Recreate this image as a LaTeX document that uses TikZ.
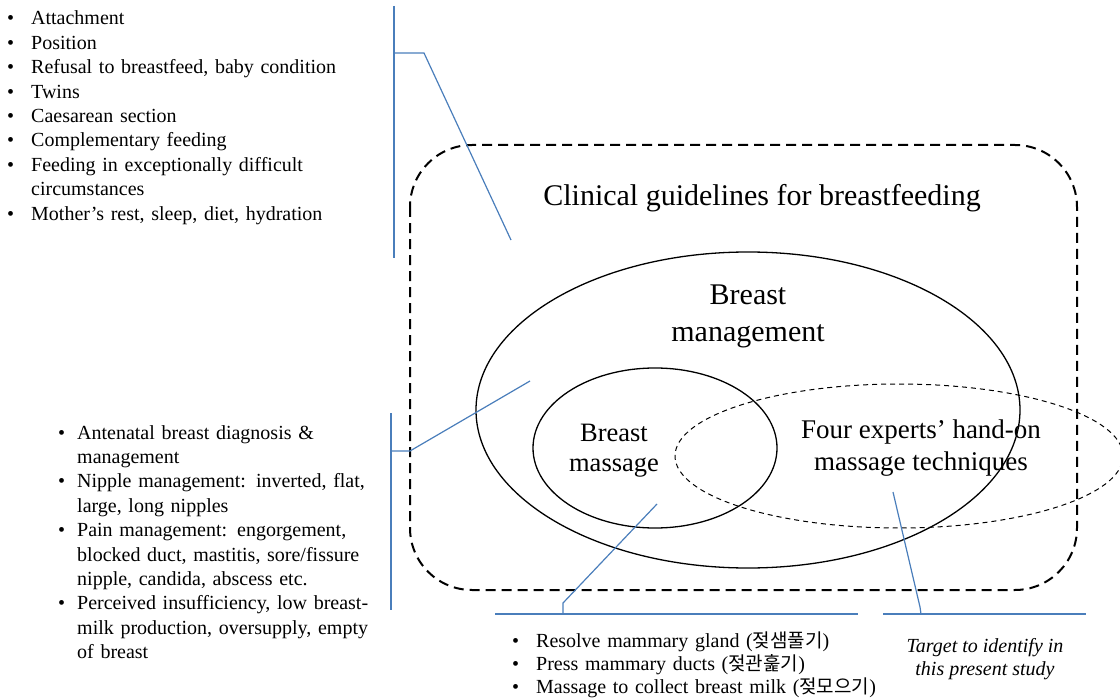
\documentclass[tikz,border=0pt]{standalone}
\usepackage{fontspec}
\setmainfont{Liberation Serif}
\newfontfamily\krfont{Noto Sans CJK KR}[Scale=0.95]
\usepackage{xcolor}
\usetikzlibrary{positioning, calc}
\definecolor{linkblue}{RGB}{74,126,187}
\newlength\bulind
\newlength\bulsep
\newcommand\bfirst[1]{\noindent\hangindent=\bulind\hangafter=1\makebox[\bulind][r]{\textbullet\hspace{\bulsep}}#1}
\newcommand\bitem[1]{\par\bfirst{#1}}

\begin{document}
\begin{tikzpicture}[x=1pt, y=-1pt,
    link/.style={draw=linkblue, line width=1.2pt},
    bullets/.style={anchor=base west, inner sep=0pt, align=left, font=\fontsize{20}{24.4}\selectfont},
    bigtext/.style={anchor=base, inner sep=0pt, align=center}]
  \useasboundingbox (0,0) rectangle (1120,698);

  \draw[line width=2pt, dash pattern=on 10pt off 6pt, rounded corners=62pt] (410,145) rectangle (1077,590);
  \draw[line width=1.3pt] (748,410) ellipse [x radius=272pt, y radius=158pt];
  \draw[line width=1.3pt] (655,448) ellipse [x radius=122pt, y radius=80pt];
  \draw[line width=1pt, dash pattern=on 5pt off 4pt] (899,456) ellipse [x radius=224pt, y radius=72pt];

  \node[bigtext, font=\fontsize{30}{36}\selectfont] (guide) at (762,205) {Clinical guidelines for breastfeeding};
  \node[bigtext, font=\fontsize{30}{36.5}\selectfont] (mgmt) at (748,341) {Breast\\management};
  \node[bigtext, font=\fontsize{26.5}{30}\selectfont] (massage) at (614,471) {Breast\\massage};
  \node[bigtext, font=\fontsize{27}{32}\selectfont] (experts) at (921,470) {Four experts’ hand-on\\massage techniques};

  \node[bullets, text width=360pt] (feedlist) at (0,25) {\setlength\bulind{31pt}\setlength\bulsep{17pt}%
    \bfirst{Attachment}
    \bitem{Position}
    \bitem{Refusal to breastfeed, baby condition}
    \bitem{Twins}
    \bitem{Caesarean section}
    \bitem{Complementary feeding}
    \bitem{Feeding in exceptionally difficult\newline circumstances}
    \bitem{Mother’s rest, sleep, diet, hydration}\par};
  \node[bullets, text width=360pt] (breastlist) at (40,439) {\setlength\bulind{37pt}\setlength\bulsep{12pt}%
    \bfirst{Antenatal breast diagnosis \&\newline management}
    \bitem{Nipple management: inverted, flat,\newline large, long nipples}
    \bitem{Pain management: engorgement,\newline blocked duct, mastitis, sore/fissure\newline nipple, candida, abscess etc.}
    \bitem{Perceived insufficiency, low breast-\newline milk production, oversupply, empty\newline of breast}\par};
  \node[bullets, text width=420pt, font=\fontsize{20}{23}\selectfont] (techlist) at (490,647) {\setlength\bulind{46pt}\setlength\bulsep{17pt}%
    \bfirst{Resolve mammary gland ({\krfont 젖샘풀기})}
    \bitem{Press mammary ducts ({\krfont 젖관훑기})}
    \bitem{Massage to collect breast milk ({\krfont 젖모으기})}\par};
  \node[bigtext, font=\fontsize{20}{23}\selectfont\itshape] (target) at (985,675) {Target to identify in\\this present study};

  \coordinate (tl1) at (394,6);
  \coordinate (tl2) at (394,258);
  \coordinate (tk1) at (394,53);
  \coordinate (tk2) at (424,53);
  \coordinate (tp) at (511,240);
  \coordinate (ml1) at (391,413);
  \coordinate (ml2) at (391,610);
  \coordinate (mk1) at (391,451);
  \coordinate (mk2) at (410,451);
  \coordinate (mp) at (530,381);
  \coordinate (bl1) at (495,614);
  \coordinate (bl2) at (858,614);
  \coordinate (bk1) at (563,614);
  \coordinate (bk2) at (563,603);
  \coordinate (bp) at (657,504);
  \coordinate (br1) at (883,614);
  \coordinate (br2) at (1086,614);
  \coordinate (bk3) at (921,614);
  \coordinate (bk4) at (920,607);
  \coordinate (bp2) at (893,492);

  \draw[link] (tl1) -- (tl2);
  \draw[link] (tk1) -- (tk2) -- (tp);
  \draw[link] (ml1) -- (ml2);
  \draw[link] (mk1) -- (mk2) -- (mp);
  \draw[link] (bl1) -- (bl2);
  \draw[link] (bk1) -- (bk2) -- (bp);
  \draw[link] (br1) -- (br2);
  \draw[link] (bk3) -- (bk4) -- (bp2);
\end{tikzpicture}
\end{document}
